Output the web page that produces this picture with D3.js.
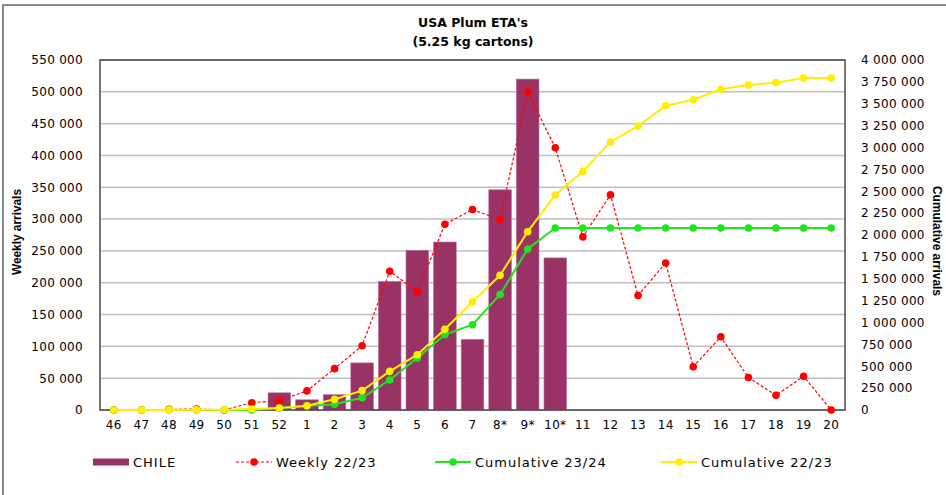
<!DOCTYPE html>
<html>
<head>
<meta charset="utf-8">
<script src="https://cdn.jsdelivr.net/npm/d3@7"></script>
<style>
  html, body { margin: 0; padding: 0; background: #fff; }
  svg { display: block; }
</style>
</head>
<body>
<svg id="chart" width="946" height="495"></svg>
<script>
// ---- data ----
const categories = ["46","47","48","49","50","51","52","1","2","3","4","5","6","7","8*","9*","10*","11","12","13","14","15","16","17","18","19","20"];
const chile = [0,0,0,0,0,0,27000,16000,24000,74000,202000,251000,264000,111000,346000,520000,239000,null,null,null,null,null,null,null,null,null,null];
const weekly2223 = [0,0,1000,1500,0,11500,14700,30000,65000,101000,218000,186000,292000,315000,299000,500000,412000,272000,338000,180000,231000,68000,115000,51000,23000,53000,0];
const cumulative2324 = [0,0,0,0,0,0,20000,45000,65000,140000,343000,594000,862000,975000,1320000,1840000,2080000,2080000,2080000,2080000,2080000,2080000,2080000,2080000,2080000,2080000,2080000];
const cumulative2223 = [0,0,1000,2500,2500,11000,23000,49000,122000,221000,442000,632000,922000,1238000,1539000,2038000,2457000,2728000,3063000,3246000,3478000,3546000,3665000,3714000,3741000,3794000,3794000];
const leftTicks = [0,50000,100000,150000,200000,250000,300000,350000,400000,450000,500000,550000];
const rightTicks = [0,250000,500000,750000,1000000,1250000,1500000,1750000,2000000,2250000,2500000,2750000,3000000,3250000,3500000,3750000,4000000];
const titleLines = ["USA Plum ETA's", "(5.25 kg cartons)"];
const legendItems = [
  {label: "CHILE", type: "bar"},
  {label: "Weekly 22/23", type: "weekly"},
  {label: "Cumulative 23/24", type: "cum2324"},
  {label: "Cumulative 22/23", type: "cum2223"}
];

// ---- styles ----
const COL_BAR = "#993366", COL_RED = "#ff0000", COL_GREEN = "#1ee61e", COL_YELLOW = "#ffee00";
const tickFont = "DejaVu Sans, Verdana, sans-serif";
const narrowFont = "Liberation Sans Narrow, Liberation Sans, Arial, sans-serif";

const svg = d3.select("#chart");
const W = 946, H = 495;
const m = {left: 100, right: 101, top: 60, bottom: 85};
const x0 = m.left, x1 = W - m.right, y0 = H - m.bottom, y1 = m.top;

// outer chart border
svg.append("rect").attr("x", 3).attr("y", 5).attr("width", 1000).attr("height", 1000)
  .attr("fill", "#fff").attr("stroke", "#8a8a8a").attr("stroke-width", 2);

const x = d3.scaleBand().domain(categories).range([x0, x1]).paddingInner(0.18).paddingOuter(0.09);
const cx = c => x(c) + x.bandwidth() / 2;
const yL = d3.scaleLinear().domain([0, 550000]).range([y0, y1]);
const yR = d3.scaleLinear().domain([0, 4000000]).range([y0, y1]);
const fmt = v => d3.format(",")(v).replace(/,/g, " ");

// gridlines
svg.append("g").selectAll("line").data(leftTicks).join("line")
  .attr("x1", x0).attr("x2", x1)
  .attr("y1", d => yL(d)).attr("y2", d => yL(d))
  .attr("stroke", "#c0c0c0").attr("stroke-width", 1.5);

// bars
svg.append("g").selectAll("rect")
  .data(categories.map((c, i) => ({c, v: chile[i]})).filter(d => d.v != null && d.v > 0))
  .join("rect")
  .attr("x", d => x(d.c)).attr("width", x.bandwidth())
  .attr("y", d => yL(d.v)).attr("height", d => yL(0) - yL(d.v))
  .attr("fill", COL_BAR).attr("stroke", "#b5709a").attr("stroke-width", 0.6);

// plot frame
svg.append("rect").attr("x", x0).attr("y", y1).attr("width", x1 - x0).attr("height", y0 - y1)
  .attr("fill", "none").attr("stroke", "#4a4a4a").attr("stroke-width", 1.5);

function series(values, yScale, color, dash, width, r) {
  const pts = categories.map((c, i) => [cx(c), yScale(values[i])]);
  const g = svg.append("g");
  g.append("path").attr("d", d3.line()(pts)).attr("fill", "none")
    .attr("stroke", color).attr("stroke-width", width)
    .attr("stroke-dasharray", dash || null);
  g.selectAll("circle").data(pts).join("circle")
    .attr("cx", d => d[0]).attr("cy", d => d[1]).attr("r", r).attr("fill", color);
}
series(weekly2223, yL, COL_RED, "3,2", 1.2, 3.8);
series(cumulative2324, yR, COL_GREEN, null, 2, 3.8);
series(cumulative2223, yR, COL_YELLOW, null, 2, 3.8);

// axes
const axL = svg.append("g").attr("transform", `translate(${x0},0)`)
  .call(d3.axisLeft(yL).tickValues(leftTicks).tickSize(0).tickPadding(17).tickFormat(fmt));
const axR = svg.append("g").attr("transform", `translate(${x1},0)`)
  .call(d3.axisRight(yR).tickValues(rightTicks).tickSize(0).tickPadding(16).tickFormat(fmt));
const axB = svg.append("g").attr("transform", `translate(0,${y0})`)
  .call(d3.axisBottom(x).tickSize(0).tickPadding(10));
[axL, axR, axB].forEach(a => {
  a.select(".domain").remove();
  a.selectAll("text").attr("font-family", tickFont).attr("font-size", 12)
    .attr("letter-spacing", "0.3px").attr("fill", "#000");
});

// titles
svg.append("g").selectAll("text").data(titleLines).join("text")
  .attr("x", 473).attr("y", (d, i) => 27 + i * 19)
  .attr("text-anchor", "middle").attr("font-family", tickFont)
  .attr("font-weight", "bold").attr("font-size", 12.5).text(d => d);

svg.append("text")
  .attr("transform", "translate(21,232) rotate(-90)")
  .attr("text-anchor", "middle")
  .attr("font-family", narrowFont)
  .attr("font-weight", "bold").attr("font-size", 13)
  .attr("textLength", 86).attr("lengthAdjust", "spacingAndGlyphs")
  .text("Weekly arrivals");
svg.append("text")
  .attr("transform", "translate(933,241) rotate(90)")
  .attr("text-anchor", "middle")
  .attr("font-family", narrowFont)
  .attr("font-weight", "bold").attr("font-size", 13)
  .attr("textLength", 110).attr("lengthAdjust", "spacingAndGlyphs")
  .text("Cumulative arrivals");

// legend
const legX = [93, 236, 435, 661];
const legY = 462;
const lg = svg.append("g");
legendItems.forEach((it, i) => {
  const lx = legX[i];
  if (it.type === "bar") {
    lg.append("rect").attr("x", lx).attr("y", legY - 3.5).attr("width", 36).attr("height", 7).attr("fill", COL_BAR);
  } else {
    const col = it.type === "weekly" ? COL_RED : it.type === "cum2324" ? COL_GREEN : COL_YELLOW;
    lg.append("line").attr("x1", lx).attr("x2", lx + 36).attr("y1", legY).attr("y2", legY)
      .attr("stroke", col).attr("stroke-width", it.type === "weekly" ? 1.2 : 2)
      .attr("stroke-dasharray", it.type === "weekly" ? "3,2" : null);
    lg.append("circle").attr("cx", lx + 18).attr("cy", legY).attr("r", 3.8).attr("fill", col);
  }
  lg.append("text").attr("x", lx + 40).attr("y", legY + 5)
    .attr("font-family", tickFont).attr("font-size", 13).attr("letter-spacing", "1px")
    .text(it.label);
});
</script>
</body>
</html>
